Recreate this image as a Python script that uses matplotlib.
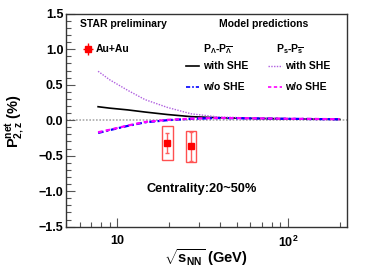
import matplotlib
matplotlib.use("Agg")
import matplotlib.pyplot as plt
from matplotlib.patches import Rectangle
from matplotlib.ticker import FixedLocator, FixedFormatter, MultipleLocator

plt.rcParams["font.family"] = ["Liberation Sans", "DejaVu Sans"]
plt.rcParams["font.weight"] = "bold"
plt.rcParams["mathtext.fontset"] = "custom"
plt.rcParams["mathtext.rm"] = "Liberation Sans:bold"
plt.rcParams["mathtext.it"] = "Liberation Sans:bold"
plt.rcParams["mathtext.bf"] = "Liberation Sans:bold"

# STAR data (Au+Au, 20-50%)
energy = [19.6, 27.0]
p2z = [-0.32, -0.37]
stat_err = [0.14, 0.205]
sys_err = [0.243, 0.22]

# model curves
model_e = [7.7, 9.0, 11.5, 14.5, 19.6, 27.0, 39.0, 62.4, 100.0, 200.0]
lam_she = [0.19, 0.17, 0.145, 0.115, 0.08, 0.05, 0.035, 0.025, 0.02, 0.012]
lam_noshe = [-0.18, -0.14, -0.08, -0.03, 0.0, 0.02, 0.03, 0.025, 0.02, 0.012]
s_she = [0.69, 0.57, 0.42, 0.29, 0.18, 0.09, 0.045, 0.03, 0.02, 0.015]
s_noshe = [-0.17, -0.135, -0.075, -0.025, 0.005, 0.022, 0.032, 0.027, 0.021, 0.014]

xticks = [10, 100]
xticklabels = ["10", "$10^2$"]

fig = plt.figure(figsize=(3.65, 2.76), dpi=100)
ax = fig.add_axes([0.181, 0.179, 0.770, 0.771])

ax.axhline(0, color="#aaaaaa", lw=1.2, ls=(0, (1, 1)), zorder=1)

ax.plot(model_e, lam_she, color="black", lw=1.2, zorder=3)
ax.plot(model_e, s_she, color="#b060e0", lw=1.0, ls=(0, (1, 1)), zorder=3)
ax.plot(model_e, lam_noshe, color="#0000ff", lw=1.6, ls=(0, (2.5, 1.2, 1, 1.2)), zorder=3)
ax.plot(model_e, s_noshe, color="#ff00ff", lw=1.6, ls=(0, (2, 1.5)), zorder=4)

for e, v, s in zip(energy, p2z, sys_err):
    lo, hi = e / 10 ** 0.03, e * 10 ** 0.03
    ax.add_patch(Rectangle((lo, v - s), hi - lo, 2 * s, fill=False,
                           edgecolor="#ff5050", lw=1.0, zorder=5))
ax.errorbar(energy, p2z, yerr=stat_err, fmt="s", color="#ff0000", ms=4,
            ecolor="#ff6060", elinewidth=1.0, capsize=1.5, zorder=6)

ax.set_xscale("log")
ax.set_xlim(5.0, 221)
ax.set_ylim(-1.5, 1.5)
ax.xaxis.set_major_locator(FixedLocator(xticks))
ax.xaxis.set_major_formatter(FixedFormatter(xticklabels))
ax.yaxis.set_major_locator(MultipleLocator(0.5))
ax.yaxis.set_minor_locator(MultipleLocator(0.1))
ax.tick_params(which="both", direction="in", labelsize=9, width=0.8,
               color="#555555", top=False, right=False)
ax.tick_params(which="major", length=6.5)
ax.tick_params(which="minor", length=3.3)
ax.tick_params(axis="x", pad=6)
ax.tick_params(axis="y", pad=2)
for lab in ax.get_xticklabels() + ax.get_yticklabels():
    lab.set_fontweight("bold")
for s in ax.spines.values():
    s.set_color("#333333")
    s.set_linewidth(1.0)

tr = ax.transAxes
kw = dict(transform=tr, fontsize=7.5, fontweight="bold", va="center")
ax.text(0.05, 0.953, "STAR preliminary", **kw)
ax.text(0.544, 0.953, "Model predictions", **kw)
ax.errorbar([0.078], [0.835], xerr=[0.018], yerr=[0.03], fmt="s", color="#ff0000",
            ms=4, elinewidth=1.0, transform=tr, clip_on=False)
ax.text(0.107, 0.835, "Au+Au", **kw)
ax.text(0.488, 0.835, r"P$_{\Lambda}$-P$_{\overline{\Lambda}}$", **kw)
ax.text(0.747, 0.835, r"P$_{s}$-P$_{\overline{s}}$", **kw)

ax.plot([0.426, 0.474], [0.753, 0.753], color="black", lw=1.2, transform=tr)
ax.text(0.486, 0.753, "with SHE", **kw)
ax.plot([0.718, 0.768], [0.753, 0.753], color="#b060e0", lw=1.0, ls=(0, (1, 1)), transform=tr)
ax.text(0.779, 0.753, "with SHE", **kw)
ax.plot([0.426, 0.474], [0.655, 0.655], color="#0000ff", lw=1.2, ls=(0, (2.5, 1.2, 1, 1.2)), transform=tr)
ax.text(0.486, 0.655, "w/o SHE", **kw)
ax.plot([0.718, 0.768], [0.655, 0.655], color="#ff00ff", lw=1.2, ls=(0, (2, 1.5)), transform=tr)
ax.text(0.779, 0.655, "w/o SHE", **kw)

ax.text(0.484, 0.177, "Centrality:20~50%", transform=tr, fontsize=9.2,
        fontweight="bold", ha="center", va="center")

fig.text(0.564, 0.065, r"$\sqrt{s_{NN}}$ (GeV)", fontsize=10.5, fontweight="bold",
         ha="center", va="center")
fig.text(0.041, 0.56, r"P$^{net}_{2,z}$ (%)", fontsize=10.5, fontweight="bold",
         ha="center", va="center", rotation=90)

fig.savefig("out.png", dpi=100)
